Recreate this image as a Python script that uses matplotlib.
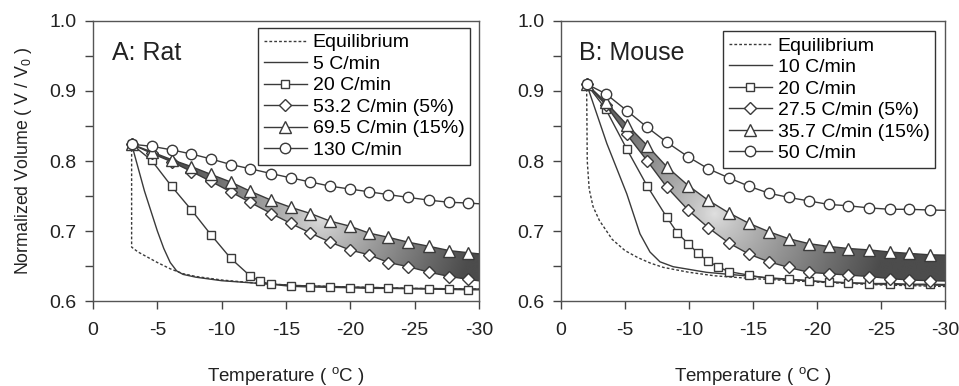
import numpy as np
import matplotlib.pyplot as plt
from matplotlib.ticker import MultipleLocator

plt.rcParams['font.family'] = ['Liberation Sans', 'DejaVu Sans']
plt.rcParams['mathtext.fontset'] = 'custom'
plt.rcParams['mathtext.rm'] = 'Liberation Sans'
plt.rcParams['axes.unicode_minus'] = False

# ---- rat (panel A) ----
rat_t = [-3, -4.55, -6.1, -7.65, -9.15, -10.7, -12.2, -13.85, -15.35, -16.9,
         -18.45, -19.95, -21.45, -22.95, -24.5, -26.15, -27.7, -29.15, -30.7]
rat_130 = [0.824, 0.821, 0.816, 0.810, 0.803, 0.795, 0.789, 0.782, 0.776, 0.770,
           0.764, 0.760, 0.756, 0.752, 0.748, 0.744, 0.741, 0.740, 0.738]
rat_695 = [0.824, 0.813, 0.802, 0.792, 0.781, 0.770, 0.757, 0.744, 0.734, 0.725,
           0.714, 0.707, 0.697, 0.691, 0.684, 0.678, 0.672, 0.669, 0.666]
rat_532 = [0.824, 0.811, 0.799, 0.785, 0.771, 0.756, 0.741, 0.725, 0.711, 0.697,
           0.684, 0.673, 0.666, 0.655, 0.649, 0.641, 0.635, 0.631, 0.627]
rat_sq_t = [-3, -4.55, -6.1, -7.65, -9.15, -10.7, -12.2, -13.0, -13.85, -15.35,
            -16.9, -18.45, -19.95, -21.45, -22.95, -24.5, -26.15, -27.7, -29.15, -30.7]
rat_20 = [0.824, 0.801, 0.764, 0.730, 0.695, 0.661, 0.636, 0.628, 0.624, 0.621,
          0.620, 0.6195, 0.619, 0.618, 0.618, 0.6175, 0.617, 0.6165, 0.616, 0.616]
rat_5_t = [-3, -4, -5, -5.5, -6, -6.5, -7, -8, -10, -13, -16, -20, -25, -30.7]
rat_5 = [0.824, 0.757, 0.700, 0.675, 0.655, 0.643, 0.638, 0.634, 0.629, 0.625,
         0.622, 0.620, 0.618, 0.617]
rat_eq_t = [-3, -3, -3.5, -4, -5, -6, -7, -8, -10, -13, -16, -20, -25, -30.7]
rat_eq = [0.824, 0.677, 0.670, 0.665, 0.655, 0.646, 0.639, 0.635, 0.630, 0.625,
          0.622, 0.620, 0.618, 0.617]

# ---- mouse (panel B) ----
mou_t = [-2, -3.5, -5.14, -6.74, -8.25, -9.93, -11.49, -13.1, -14.68, -16.24,
         -17.79, -19.35, -20.9, -22.46, -24.07, -25.7, -27.2, -28.8, -31.5]
mou_50 = [0.91, 0.896, 0.872, 0.848, 0.827, 0.806, 0.789, 0.776, 0.764, 0.754,
          0.748, 0.743, 0.738, 0.736, 0.733, 0.731, 0.731, 0.730, 0.729]
mou_357 = [0.91, 0.884, 0.852, 0.822, 0.792, 0.765, 0.744, 0.726, 0.711, 0.699,
           0.689, 0.682, 0.678, 0.675, 0.673, 0.670, 0.668, 0.666, 0.665]
mou_275 = [0.91, 0.880, 0.838, 0.800, 0.763, 0.730, 0.705, 0.683, 0.667, 0.656,
           0.648, 0.641, 0.639, 0.637, 0.635, 0.632, 0.630, 0.629, 0.628]
mou_sq_t = [-2, -3.5, -5.14, -6.74, -8.25, -9.1, -9.93, -10.71, -11.49, -12.27,
            -13.1, -14.68, -16.24, -17.79, -19.35, -20.9, -22.46, -24.07, -25.7,
            -27.2, -28.8, -31.5]
mou_20 = [0.91, 0.874, 0.817, 0.764, 0.720, 0.697, 0.682, 0.668, 0.657, 0.649,
          0.642, 0.637, 0.632, 0.631, 0.629, 0.627, 0.626, 0.625, 0.625, 0.624,
          0.624, 0.623]
mou_10_t = [-2, -3.58, -5.14, -6.17, -6.95, -7.73, -8.76, -11.36, -15, -20, -25, -31.5]
mou_10 = [0.91, 0.825, 0.753, 0.696, 0.670, 0.656, 0.649, 0.641, 0.635, 0.628,
          0.624, 0.622]
mou_eq_t = [-2, -2.05, -2.2, -2.5, -3, -4, -5, -6, -7, -8, -10, -12, -15, -20, -25, -31.5]
mou_eq = [0.91, 0.80, 0.76, 0.735, 0.715, 0.688, 0.672, 0.662, 0.654, 0.648,
          0.641, 0.636, 0.632, 0.627, 0.623, 0.620]

ink = '#3a3a3a'


def band(ax, t, hi, lo, cx, cy, r):
    # shaded band between the 5% and 15% curves, light in the middle
    poly = ax.fill_between(t, hi, lo, color='none', lw=0, zorder=1)
    xx, yy = np.meshgrid(np.linspace(0, 1, 400), np.linspace(0, 1, 300))
    d = np.hypot((xx - cx) * 1.38, yy - cy)
    img = 0.88 - 0.58 * np.clip(d / r, 0, 1) ** 0.8
    im = ax.imshow(img, cmap='gray', vmin=0, vmax=1, extent=[0, 1, 0, 1],
                   origin='lower', transform=ax.transAxes, aspect='auto',
                   zorder=1, interpolation='bilinear')
    im.set_clip_path(poly.get_paths()[0], transform=ax.transData)


def panel(ax, title, t, circ, tri, dia, sq_t, sq, sol_t, sol, eq_t, eq, labels,
          grad, leg_at):
    band(ax, t, tri, dia, *grad)
    kw = dict(color=ink, lw=1.0, mfc='white', mec=ink, mew=1.0, zorder=3)
    ax.plot(eq_t, eq, ls=(0, (2, 1.5)), color=ink, lw=1.0, label=labels[0], zorder=2)
    ax.plot(sol_t, sol, color=ink, lw=1.0, label=labels[1], zorder=2)
    ax.plot(sq_t, sq, marker='s', ms=6, label=labels[2], **kw)
    ax.plot(t, dia, marker='D', ms=6, label=labels[3], **kw)
    ax.plot(t, tri, marker='^', ms=8.5, label=labels[4], **kw)
    ax.plot(t, circ, marker='o', ms=7.5, label=labels[5], **kw)

    ax.set_xlim(0, -30)
    ax.set_ylim(0.6, 1.0)
    ax.set_xticks([0, -5, -10, -15, -20, -25, -30])
    ax.set_yticks([0.6, 0.7, 0.8, 0.9, 1.0])
    ax.set_yticklabels(['0.6', '0.7', '0.8', '0.9', '1.0'])
    ax.yaxis.set_minor_locator(MultipleLocator(0.05))
    ax.tick_params(which='both', direction='out', length=6, width=1, color='#444',
                   labelsize=14, labelcolor='#222')
    ax.tick_params(axis='x', pad=9)
    ax.tick_params(axis='y', pad=6)
    for s in ax.spines.values():
        s.set_color('#555')
        s.set_linewidth(1)
    ax.text(0.048, 0.885, title, transform=ax.transAxes, fontsize=18,
            color='#222', va='center')
    ax.set_xlabel(r'Temperature ( $\mathregular{{}^{o}C}$ )', fontsize=13.5,
                  labelpad=19, color='#222')
    leg = ax.legend(loc='upper right', bbox_to_anchor=leg_at, fontsize=14,
                    handlelength=2.2, handletextpad=0.3, labelspacing=0.2,
                    borderpad=0.3, borderaxespad=0, fancybox=False,
                    framealpha=1, edgecolor='#333', numpoints=1)
    leg.get_frame().set_linewidth(1)


fig = plt.figure(figsize=(9.59, 3.86), dpi=100)
ax1 = fig.add_axes([0.097, 0.2202, 0.4025, 0.7254])
ax2 = fig.add_axes([0.585, 0.2202, 0.4004, 0.7254])

panel(ax1, 'A: Rat', rat_t, rat_130, rat_695, rat_532, rat_sq_t, rat_20,
      rat_5_t, rat_5, rat_eq_t, rat_eq,
      ['Equilibrium', '5 C/min', '20 C/min', '53.2 C/min (5%)',
       '69.5 C/min (15%)', '130 C/min'],
      (0.59, 0.30, 0.55), (0.977, 0.975))
panel(ax2, 'B: Mouse', mou_t, mou_50, mou_357, mou_275, mou_sq_t, mou_20,
      mou_10_t, mou_10, mou_eq_t, mou_eq,
      ['Equilibrium', '10 C/min', '20 C/min', '27.5 C/min (5%)',
       '35.7 C/min (15%)', '50 C/min'],
      (0.40, 0.31, 0.62), (0.975, 0.964))

ax1.set_ylabel(r'Normalized Volume ( V / $\mathregular{V_0}$ )', fontsize=12.8,
               labelpad=11, color='#222')

fig.savefig('out.png', dpi=100)
